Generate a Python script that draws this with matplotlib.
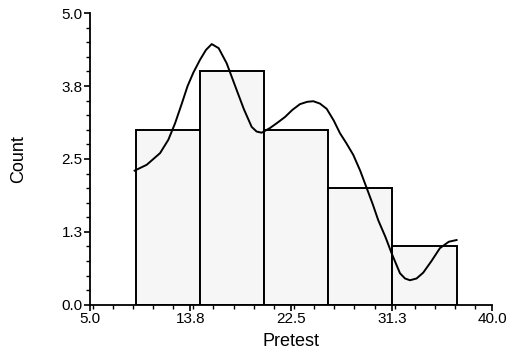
import numpy as np
import matplotlib
matplotlib.use("Agg")
import matplotlib.pyplot as plt
from matplotlib.ticker import MultipleLocator

plt.rcParams["font.family"] = ["Liberation Sans", "DejaVu Sans"]

# histogram bins
bin_edges = [9.0, 14.55, 20.15, 25.7, 31.3, 36.95]
counts    = [3, 4, 3, 2, 1]

# density curve, scaled to counts
curve_x = [8.9, 9.95, 11.11, 11.83, 12.41, 13.0, 13.5, 14.0, 14.58, 15.1, 15.6, 16.2,
           16.9, 17.77, 18.4, 19.07, 19.5, 19.94, 20.66, 21.3, 21.97, 22.6, 23.27,
           23.9, 24.43, 25.0, 25.59, 26.2, 26.75, 27.3, 27.9, 28.5, 29.07, 29.6,
           30.07, 30.7, 31.24, 31.96, 32.4, 32.83, 33.4, 33.98, 34.7, 35.43, 36.2, 36.88]
curve_y = [2.30, 2.40, 2.60, 2.83, 3.11, 3.45, 3.75, 3.98, 4.20, 4.37, 4.47, 4.40,
           4.14, 3.68, 3.35, 3.05, 2.97, 2.95, 3.03, 3.12, 3.22, 3.34, 3.44,
           3.48, 3.49, 3.45, 3.36, 3.16, 2.94, 2.77, 2.57, 2.30, 2.00, 1.72,
           1.45, 1.16, 0.88, 0.54, 0.45, 0.42, 0.45, 0.55, 0.75, 0.97, 1.08, 1.11]

xticks      = [5.0, 13.75, 22.5, 31.25, 40.0]
xticklabels = ["5.0", "13.8", "22.5", "31.3", "40.0"]
yticks      = [0.0, 1.25, 2.5, 3.75, 5.0]
yticklabels = ["0.0", "1.3", "2.5", "3.8", "5.0"]

fig = plt.figure(figsize=(5.13, 3.56), dpi=100)
ax = fig.add_axes([0.175, 0.144, 0.785, 0.819])

widths = np.diff(bin_edges)
ax.bar(bin_edges[:-1], counts, width=widths, align="edge",
       facecolor="#f6f6f6", edgecolor="black", linewidth=1.4, zorder=2)
ax.plot(curve_x, curve_y, color="black", linewidth=1.4, zorder=3)

ax.set_xlim(5.0, 40.0)
ax.set_ylim(0.0, 5.0)
ax.set_xticks(xticks)
ax.set_xticklabels(xticklabels)
ax.set_yticks(yticks)
ax.set_yticklabels(yticklabels)
ax.xaxis.set_minor_locator(MultipleLocator(1.75))
ax.yaxis.set_minor_locator(MultipleLocator(0.25))

for side in ["top", "right"]:
    ax.spines[side].set_visible(False)
for side in ["left", "bottom"]:
    ax.spines[side].set_linewidth(1.3)

ax.tick_params(which="major", length=4, width=1.2, labelsize=11, pad=1)
ax.tick_params(which="minor", length=3, width=1.0)

ax.set_xlabel("Pretest", fontsize=13, labelpad=5)
ax.set_ylabel("Count", fontsize=13, labelpad=25)

fig.savefig("out.png", dpi=100, facecolor="white")
